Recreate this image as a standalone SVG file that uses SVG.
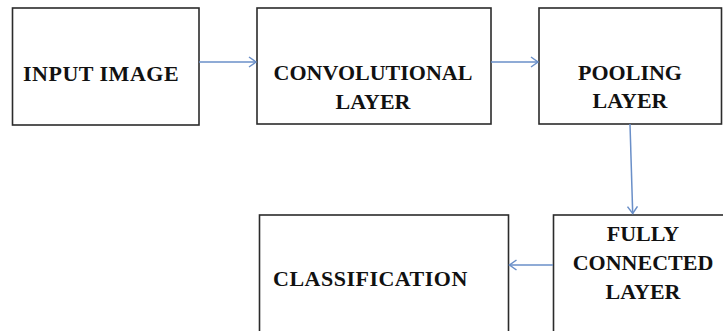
<svg xmlns="http://www.w3.org/2000/svg" width="723" height="331" viewBox="0 0 723 331">
<style>
.box{fill:#fff;stroke:#2b2b2b;stroke-width:1.6}
.lbl{font-family:"Liberation Serif","Times New Roman",serif;font-weight:bold;font-size:22px;fill:#111}
.c{text-anchor:middle}
.sp{letter-spacing:0.5px}
.conn{stroke:#6a8fc8;stroke-width:1.5;fill:none}
</style>
<defs>
<marker id="ah" markerWidth="12" markerHeight="12" refX="9" refY="6" orient="auto" markerUnits="userSpaceOnUse">
<path d="M2,1 L9,6 L2,11" fill="none" stroke="#6a8fc8" stroke-width="1.5"/>
</marker>
</defs>
<rect width="723" height="331" fill="#fff"/>
<g id="input">
<rect class="box" x="12.5" y="8" width="186.5" height="117"/>
<text class="lbl sp" x="23" y="81">INPUT IMAGE</text>
</g>
<g id="conv">
<rect class="box" x="257" y="8" width="234" height="116"/>
<text class="lbl c" x="373" y="80">CONVOLUTIONAL</text>
<text class="lbl c" x="373" y="109">LAYER</text>
</g>
<g id="pool">
<rect class="box" x="539" y="8" width="182.5" height="116"/>
<text class="lbl c" x="630" y="80">POOLING</text>
<text class="lbl c" x="630" y="108">LAYER</text>
</g>
<g id="fc">
<rect class="box" x="553.5" y="215" width="185" height="130"/>
<text class="lbl c" x="643" y="241">FULLY</text>
<text class="lbl c" x="643" y="270">CONNECTED</text>
<text class="lbl c" x="643" y="299">LAYER</text>
</g>
<g id="cls">
<rect class="box" x="259.5" y="215" width="249" height="130"/>
<text class="lbl sp" x="273" y="286">CLASSIFICATION</text>
</g>
<g id="connectors">
<line class="conn" x1="199" y1="62" x2="256" y2="62" marker-end="url(#ah)"/>
<line class="conn" x1="491" y1="62" x2="538" y2="62" marker-end="url(#ah)"/>
<line class="conn" x1="630" y1="124" x2="632.7" y2="213.5" marker-end="url(#ah)"/>
<line class="conn" x1="553" y1="265" x2="509.5" y2="265" marker-end="url(#ah)"/>
</g>
</svg>
